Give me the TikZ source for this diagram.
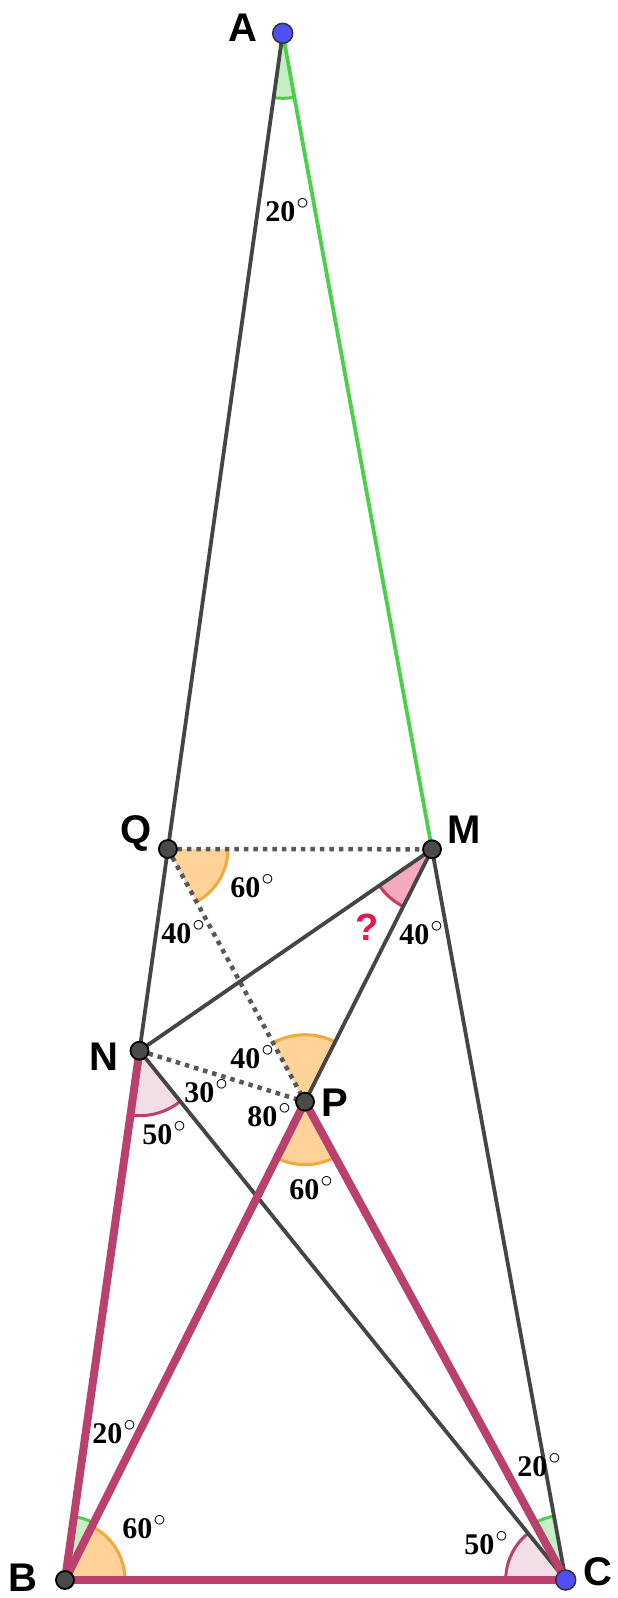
\documentclass[tikz,border=0pt]{standalone}
\usepackage{fontspec}
\setmainfont{Liberation Serif}
\newfontfamily\lblfont{Liberation Sans}
\usetikzlibrary{angles}
\definecolor{lngray}{HTML}{454545}
\definecolor{lngreen}{HTML}{4CD04C}
\definecolor{crim}{HTML}{BA416D}
\definecolor{orbord}{HTML}{F2A93B}
\definecolor{orfill}{HTML}{FFD29A}
\definecolor{pkfill}{HTML}{F4A9BD}
\definecolor{pkbord}{HTML}{C93A62}
\definecolor{lpfill}{HTML}{F2DEE6}
\definecolor{grfill}{HTML}{C4EEC4}
\definecolor{ptblue}{HTML}{4F4FF5}
\definecolor{ptgray}{HTML}{4A4A4A}
\definecolor{qred}{HTML}{E8174A}
\newcommand\degsym{\kern1pt\raisebox{0.42em}{\fontsize{24}{24}\selectfont$\circ$}}
\tikzset{
  grayln/.style={draw=lngray,line width=3.8pt,line cap=round},
  greenln/.style={draw=lngreen,line width=3.8pt,line cap=round},
  crimln/.style={draw=crim,line width=8pt,line cap=round,line join=round},
  dotln/.style={draw=lngray!90,line width=4.5pt,dash pattern=on 4.5pt off 5pt},
  orsec/.style={draw=orbord,fill=orfill,line width=3pt},
  pksec/.style={draw=pkbord,fill=pkfill,line width=3pt},
  lpsec/.style={draw=crim,fill=lpfill,line width=3pt},
  grsec/.style={draw=lngreen,fill=grfill,line width=3pt},
  dotg/.style={circle,fill=ptgray,draw=black,line width=1.8pt,minimum size=18pt,inner sep=0pt},
  dotb/.style={circle,fill=ptblue,draw=black!80,line width=1.5pt,minimum size=20pt,inner sep=0pt},
  ptlbl/.style={font=\lblfont\bfseries\fontsize{40}{40}\selectfont,inner sep=0pt},
  anglbl/.style={font=\bfseries\fontsize{30}{30}\selectfont,inner sep=0pt}
}
\begin{document}
\begin{tikzpicture}[x=1pt,y=-1pt]
\useasboundingbox (0,0) rectangle (618,1598);
\fill[white] (0,0) rectangle (618,1598);
% points
\coordinate (A) at (282.7,33.3);
\coordinate (Q) at (167.9,849);
\coordinate (M) at (432,849.3);
\coordinate (N) at (139.5,1050.7);
\coordinate (P) at (305,1101.7);
\coordinate (B) at (65,1580);
\coordinate (C) at (565.7,1580);
% angle sectors
\pic[grsec,angle radius=65pt] {angle=B--A--C};
\pic[orsec,angle radius=60pt] {angle=P--Q--M};
\pic[pksec,angle radius=64pt] {angle=N--M--P};
\pic[lpsec,angle radius=65pt] {angle=B--N--C};
\pic[orsec,angle radius=67pt] {angle=M--P--Q};
\pic[orsec,angle radius=63pt] {angle=B--P--C};
\pic[orsec,angle radius=60pt] {angle=C--B--P};
\pic[grsec,angle radius=64pt] {angle=P--B--N};
\pic[lpsec,angle radius=60pt] {angle=N--C--B};
\pic[grsec,angle radius=65pt] {angle=M--C--P};
% lines
\draw[dotln] (Q) -- (M);
\draw[dotln] (Q) -- (P);
\draw[dotln] (N) -- (P);
\draw[grayln] (A) -- (Q);
\draw[grayln] (Q) -- (N);
\draw[greenln] (A) -- (M);
\draw[grayln] (M) -- (C);
\draw[grayln] (N) -- (C);
\draw[grayln] (N) -- (M);
\draw[grayln] (M) -- (P);
\draw[crimln] (N) -- (B);
\draw[crimln] (B) -- (C);
\draw[crimln] (B) -- (P);
\draw[crimln] (P) -- (C);
% dots
\node[dotb] (Adot) at (A) {};
\node[dotg] (Qdot) at (Q) {};
\node[dotg] (Mdot) at (M) {};
\node[dotg] (Ndot) at (N) {};
\node[dotg] (Pdot) at (P) {};
\node[dotg] (Bdot) at (B) {};
\node[dotb] (Cdot) at (C) {};
% point labels
\node[ptlbl] (lA) at (243,28) {A};
\node[ptlbl] (lQ) at (136,833) {Q};
\node[ptlbl] (lM) at (464,830) {M};
\node[ptlbl] (lN) at (104,1057) {N};
\node[ptlbl] (lP) at (335,1103) {P};
\node[ptlbl] (lB) at (23,1578) {B};
\node[ptlbl] (lC) at (598,1572) {C};
% angle labels
\node[anglbl] (a1) at (287,210) {20\degsym};
\node[anglbl] (a2) at (252,886) {60\degsym};
\node[anglbl] (a3) at (183,932) {40\degsym};
\node[font=\lblfont\bfseries\fontsize{38}{38}\selectfont,text=qred,inner sep=0pt] (qm) at (367,927) {?};
\node[anglbl] (a4) at (421,933) {40\degsym};
\node[anglbl] (a5) at (252,1057) {40\degsym};
\node[anglbl] (a6) at (206,1091) {30\degsym};
\node[anglbl] (a7) at (269,1115) {80\degsym};
\node[anglbl] (a8) at (164,1133) {50\degsym};
\node[anglbl] (a9) at (311,1188) {60\degsym};
\node[anglbl] (a10) at (114,1432) {20\degsym};
\node[anglbl] (a11) at (144,1527) {60\degsym};
\node[anglbl] (a12) at (539,1465) {20\degsym};
\node[anglbl] (a13) at (486,1543) {50\degsym};
\end{tikzpicture}
\end{document}
